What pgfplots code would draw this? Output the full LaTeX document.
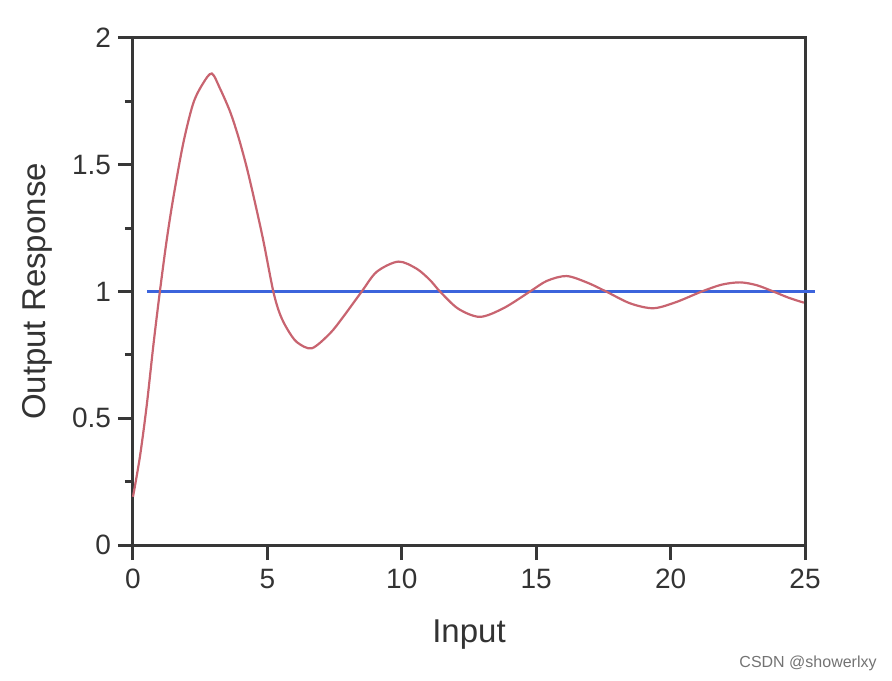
\documentclass[border=0pt]{standalone}
\usepackage{pgfplots}
\pgfplotsset{compat=1.18}
\usepackage{fontspec}
\setmainfont{Liberation Sans}

\definecolor{curvered}{RGB}{200,100,112}
\definecolor{refblue}{RGB}{60,100,220}
\definecolor{axgray}{RGB}{55,55,55}

\begin{document}
\begin{tikzpicture}
\begin{axis}[
    scale only axis,
    width=336pt, height=253.5pt,
    xmin=0, xmax=25,
    ymin=0, ymax=2,
    xtick={0,5,10,15,20,25},
    ytick={0,0.5,1,1.5,2},
    minor ytick={0.25,0.75,1.25,1.75},
    tick align=outside,
    tick pos=left,
    major tick length=7.5pt,
    minor tick length=4pt,
    axis line style={axgray, line width=1.5pt},
    every tick/.style={axgray, line width=1.5pt},
    tick label style={font=\fontsize{14}{16}\selectfont, text=black!80},
    /pgf/number format/assume math mode=true,
    xticklabel shift=1pt,
    yticklabel style={/pgf/number format/fixed},
    xlabel={Input},
    ylabel={Output Response},
    every axis x label/.style={at={(axis description cs:0.5,0)}, anchor=center,
        yshift=-45pt, font=\fontsize{16.5}{19}\selectfont, text=black!80},
    every axis y label/.style={at={(axis description cs:0,0.5)}, anchor=center,
        rotate=90, yshift=48pt, font=\fontsize{16.5}{19}\selectfont, text=black!80},
    clip=false,
]
\addplot[refblue, line width=1.1pt] coordinates {(0.52,1.0) (25.37,1.0)};
\addplot[curvered, line width=1.1pt, smooth] coordinates {
(0,0.19) (0.26,0.35) (0.51,0.55) (0.76,0.79) (1.0,1.0) (1.25,1.20) (1.5,1.37)
(1.87,1.585) (2.24,1.742) (2.6,1.82) (2.93,1.86) (3.24,1.80) (3.61,1.71)
(3.92,1.61) (4.23,1.49) (4.54,1.35) (4.85,1.20) (5.22,1.0) (5.47,0.91)
(5.75,0.85) (6.1,0.80) (6.65,0.776) (7.33,0.835) (7.82,0.90) (8.51,1.0)
(9.07,1.078) (9.87,1.118) (10.55,1.09) (11.05,1.045) (11.42,1.0) (12.1,0.932)
(12.91,0.90) (13.8,0.935) (14.77,1.0) (15.4,1.042) (16.13,1.061) (16.9,1.035)
(17.6,1.0) (18.5,0.953) (19.36,0.934) (20.2,0.958) (21.16,1.0) (21.9,1.027)
(22.58,1.036) (23.2,1.025) (23.82,1.0) (24.4,0.975) (24.96,0.956)
};
\end{axis}
\node[anchor=east, text=black!55, font=\fontsize{8}{10}\selectfont, inner sep=0pt]
  at ([shift={(372pt,-59pt)}]current axis.south west) {CSDN @showerlxy};
\path ([shift={(-66.5pt,-67.5pt)}]current axis.south west) rectangle ++(446pt,340pt);
\end{tikzpicture}
\end{document}
